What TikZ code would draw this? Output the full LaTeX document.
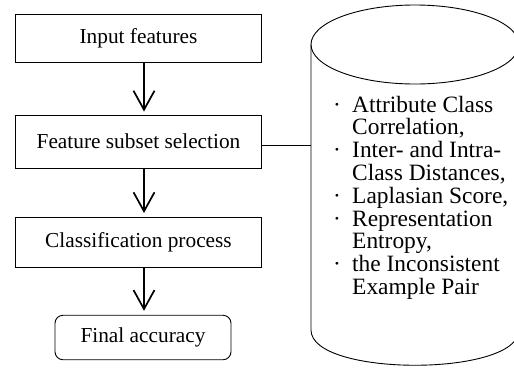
\documentclass[tikz,border=0pt]{standalone}
\usepackage{fontspec}
\setmainfont{Liberation Serif}
\usetikzlibrary{arrows.meta}
\begin{document}
\begin{tikzpicture}[x=1bp,y=-1bp,
  box/.style={draw, line width=0.9bp, minimum width=246bp, inner sep=0pt, font=\fontsize{21.4}{24}\selectfont},
  finalbox/.style={box, minimum width=176bp, rounded corners=8bp},
  arr/.style={line width=1.7bp, -{Straight Barb[length=19bp,width=21bp]}},
  cyl/.style={line width=0.9bp},
  ctext/.style={anchor=base west, inner sep=0pt, font=\fontsize{23.5}{24}\selectfont}]
\useasboundingbox (0,0) rectangle (514,367);
\clip (0,0) rectangle (514,367);
% flow boxes
\node[box, minimum height=48bp] (b1) at (138.5,38) {Input features};
\node[box, minimum height=52.5bp] (b2) at (138.5,141.7) {Feature subset selection};
\node[box, minimum height=49.5bp] (b3) at (138.5,242.2) {Classification process};
\node[finalbox, minimum height=44.5bp] (b4) at (143,337.5) {Final accuracy};
% arrows
\draw[arr] ([xshift=5.5bp]b1.south) -- ([xshift=5.5bp,yshift=3.5bp]b2.north);
\draw[arr] ([xshift=5.5bp]b2.south) -- ([xshift=5.5bp,yshift=4bp]b3.north);
\draw[arr] ([xshift=5.5bp]b3.south) -- ([xshift=1bp,yshift=4bp]b4.north);
% cylinder
\draw[cyl] (415,44.5) ellipse [x radius=104, y radius=39.5];
\draw[cyl] (311,44.5) -- (311,330) .. controls (311,377) and (519,377) .. (519,330) -- (519,44.5);
\coordinate (cylL) at (311,145);
\draw[cyl] (b2.east |- cylL) -- (cylL);
% cylinder text
\foreach \n/\y/\t in {1/112/Attribute Class, 2/134.8/Correlation{,}, 3/157.6/Inter- and Intra-, 4/180.4/Class Distances{,}, 5/203.2/Laplasian Score{,}, 6/226/Representation, 7/248.8/Entropy{,}, 8/271.6/the Inconsistent, 9/294.4/Example Pair}
  \node[ctext] (t\n) at (352,\y) {\t};
\foreach \n/\y in {1/112, 3/157.6, 5/203.2, 6/226, 8/271.6}
  \node[ctext] (d\n) at (333,\y) {·};
\end{tikzpicture}
\end{document}
